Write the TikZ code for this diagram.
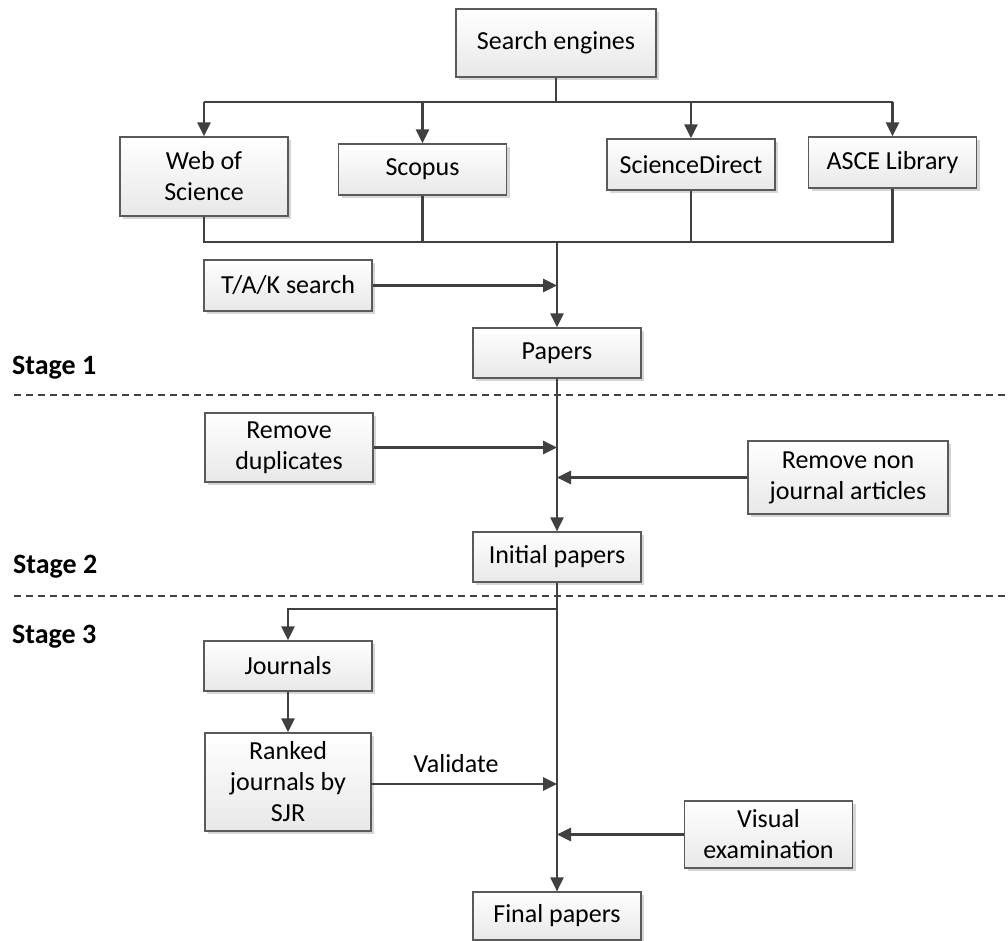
\documentclass[tikz,border=0pt]{standalone}
\usepackage{fontspec}
\setmainfont{Carlito}
\usetikzlibrary{arrows.meta,shadows}
\definecolor{ln}{HTML}{404040}
\definecolor{bd}{HTML}{5A5A5A}
\tikzset{
  box/.style={draw=bd, line width=1.2pt, top color=white, bottom color=black!9,
    drop shadow={shadow xshift=3pt, shadow yshift=-3pt, fill=black!16, opacity=1},
    align=center, inner sep=0pt, font=\fontsize{26}{31}\selectfont,
    minimum width=168pt, minimum height=51pt},
  conn/.style={draw=ln, line width=2.7pt},
  thinconn/.style={draw=ln, line width=2.1pt},
  arr/.style={conn, -{Triangle[length=14pt,width=13pt]}},
  thinarr/.style={thinconn, -{Triangle[length=14pt,width=13pt]}},
  stagelbl/.style={font=\fontsize{28}{32}\selectfont\bfseries, anchor=base west, inner sep=0pt},
  sepline/.style={draw=ln, line width=1.8pt, dash pattern=on 7pt off 5pt},
  lbl/.style={font=\fontsize{26}{31}\selectfont, inner sep=0pt}
}
\begin{document}
\begin{tikzpicture}[x=1pt,y=-1pt]
\useasboundingbox[fill=white] (0,0) rectangle (1008,941);
% boxes
\node[box, minimum width=200pt, minimum height=68pt] (se) at (556,43) {Search engines};
\node[box, minimum height=79pt] (wos) at (204,176.5) {Web of\\Science};
\node[box] (sco) at (422.5,169.5) {Scopus};
\node[box] (sd) at (691,164.5) {ScienceDirect};
\node[box] (asce) at (892.5,162.5) {ASCE Library};
\node[box] (tak) at (288,285.5) {T/A/K search};
\node[box, minimum height=50pt] (pap) at (557,353) {Papers};
\node[box, minimum height=69pt] (rd) at (289,447.5) {Remove\\duplicates};
\node[box, minimum width=200pt, minimum height=73pt] (rnj) at (848,477.5) {Remove non\\journal articles};
\node[box, minimum height=50pt] (ini) at (557,557) {Initial papers};
\node[box, minimum height=50pt] (jour) at (288,666) {Journals};
\node[box, minimum width=166pt, minimum height=98pt] (rank) at (288,782) {Ranked\\journals by\\SJR};
\node[box, minimum height=67pt] (vis) at (768.5,834.5) {Visual\\examination};
\node[box, minimum height=48pt] (fin) at (557,916) {Final papers};
% stage labels and separators
\node[stagelbl] (s1) at (12,374) {Stage 1};
\node[stagelbl] (s2) at (13,573) {Stage 2};
\node[stagelbl] (s3) at (12,643) {Stage 3};
\coordinate (d1a) at (14,395); \coordinate (d1b) at (1008,395);
\coordinate (d2a) at (14,596); \coordinate (d2b) at (1008,596);
\draw[sepline] (d1a) -- (d1b);
\draw[sepline] (d2a) -- (d2b);
% top bus
\coordinate (topbus) at (556,102);
\draw[conn] (se.south) -- (topbus);
\draw[conn] (wos.north |- topbus) -- (asce.north |- topbus);
\draw[arr] (wos.north |- topbus) -- (wos.north);
\draw[arr] (sco.north |- topbus) -- (sco.north);
\draw[arr] (sd.north |- topbus) -- (sd.north);
\draw[arr] (asce.north |- topbus) -- (asce.north);
% bottom bus
\coordinate (botbus) at (557,242);
\draw[conn] (wos.south) -- (wos.south |- botbus) -- (asce.south |- botbus) -- (asce.south);
\draw[conn] (sco.south) -- (sco.south |- botbus);
\draw[conn] (sd.south) -- (sd.south |- botbus);
\draw[arr] (botbus) -- (pap.north);
\draw[arr] (tak.east) -- (tak.east -| botbus);
% stage 2
\draw[thinarr] (pap.south) -- (ini.north);
\draw[arr] (rd.east) -- (rd.east -| pap.south);
\draw[arr] (rnj.west) -- (rnj.west -| pap.south);
% stage 3
\draw[thinarr] (ini.south) -- (fin.north);
\coordinate (br) at (557,609);
\draw[arr] (br) -- (br -| jour.north) -- (jour.north);
\draw[arr] (jour.south) -- (rank.north);
\coordinate (va) at (371,784);
\draw[arr] (va) -- (va -| fin.north);
\node[lbl] (val) at (456,764) {Validate};
\draw[arr] (vis.west) -- (vis.west -| fin.north);
\end{tikzpicture}
\end{document}
